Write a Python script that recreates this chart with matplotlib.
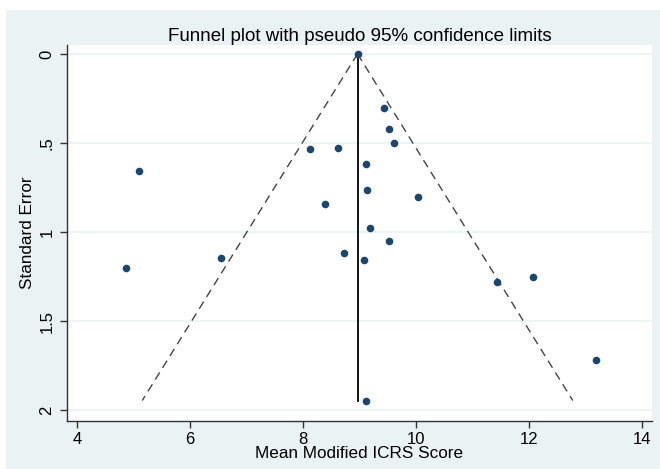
import matplotlib.pyplot as plt
from matplotlib.patches import Rectangle
import numpy as np

plt.rcParams['font.family'] = ['Liberation Sans', 'DejaVu Sans']

# study estimates
score = [8.97, 9.44, 9.52, 9.61, 8.62, 8.13, 5.09, 9.11, 9.13, 10.03, 8.39,
         9.18, 9.53, 6.54, 8.73, 9.08, 4.87, 12.07, 11.43, 13.19, 9.12]
se = [0.0, 0.305, 0.42, 0.50, 0.53, 0.535, 0.655, 0.615, 0.765, 0.805, 0.84,
      0.975, 1.05, 1.145, 1.12, 1.155, 1.204, 1.25, 1.28, 1.715, 1.945]
pooled = 8.965
x_ticks = [4, 6, 8, 10, 12, 14]
y_ticks = [0, 0.5, 1, 1.5, 2]
y_labels = ['0', '.5', '1', '1.5', '2']

bg = '#eaf2f3'
navy = '#1a476f'

fig = plt.figure(figsize=(6.6, 4.69), dpi=100)
fig.patch.set_facecolor('white')
# stata style graph region
fig.patches.append(Rectangle((6 / 660, 0), 1, 1 - 10 / 469, transform=fig.transFigure,
                             facecolor=bg, edgecolor='none', zorder=-5))

ax = fig.add_axes([67 / 660, 1 - 421 / 469, (652 - 67) / 660, (421 - 45) / 469])
ax.set_zorder(2)
ax.set_facecolor('white')

# pseudo 95% confidence limits
se_max = max(se)
se_line = np.array([0, se_max])
ax.plot(pooled - 1.96 * se_line, se_line, color='#444444', lw=1.0, dashes=(6, 4))
ax.plot(pooled + 1.96 * se_line, se_line, color='#444444', lw=1.0, dashes=(6, 4))
ax.plot([pooled, pooled], se_line, color='black', lw=1.3)

ax.scatter(score, se, s=30, color=navy, zorder=3, linewidths=0)

ax.set_xlim(3.82, 14.18)
ax.set_ylim(2.06, -0.05)
ax.set_xticks(x_ticks)
ax.set_yticks(y_ticks)
ax.set_yticklabels(y_labels, rotation=90, va='center')
for v in y_ticks:
    ax.axhline(v, color=bg, lw=1.2, zorder=0)

for s in ['top', 'right']:
    ax.spines[s].set_visible(False)
for s in ['left', 'bottom']:
    ax.spines[s].set_color('#333333')
    ax.spines[s].set_linewidth(1.0)
ax.tick_params(direction='out', length=5, width=1, colors='#333333', labelsize=12,
               labelcolor='black')
ax.tick_params(axis='x', pad=3)
ax.tick_params(axis='y', pad=4)

ax.set_title('Funnel plot with pseudo 95% confidence limits', fontsize=13.5, pad=3)
ax.set_xlabel('Mean Modified ICRS Score', fontsize=12.3, labelpad=-1)
ax.set_ylabel('Standard Error', fontsize=12.3, labelpad=3)

fig.savefig('out.png', dpi=100, facecolor=fig.get_facecolor())
